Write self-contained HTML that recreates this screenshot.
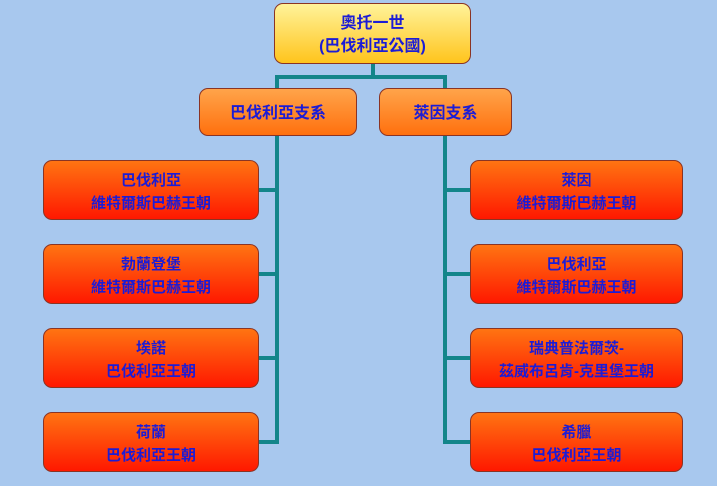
<!DOCTYPE html>
<html><head><meta charset="utf-8"><style>
html,body{margin:0;padding:0}
body{width:717px;height:486px;background:#a8c8ee;position:relative;overflow:hidden;font-family:"Liberation Sans","Noto Sans CJK TC","Noto Sans CJK SC",sans-serif}
.b{position:absolute;box-sizing:border-box;border:1px solid #8a3424;border-radius:9px;display:flex;flex-direction:column;align-items:center;justify-content:center;color:#1c1cd6;font-weight:bold;text-align:center;padding-top:3px}
.top{left:274px;top:3px;width:197px;height:61px;background:linear-gradient(#fff39a,#ffc41c);font-size:16px;line-height:23px}
.mid{top:88px;height:48px;background:linear-gradient(#ffa44a,#ff700e);font-size:16px;line-height:20px}
.leaf{height:60px;background:linear-gradient(#ff7412,#ff1800);font-size:15px;line-height:23px}
.l{position:absolute;background:#13858a}
</style></head><body>
<div class="l" style="left:371px;top:63px;width:4px;height:15px"></div>
<div class="l" style="left:275px;top:75px;width:172px;height:4px"></div>
<div class="l" style="left:275px;top:75px;width:4px;height:369px"></div>
<div class="l" style="left:443px;top:75px;width:4px;height:369px"></div>
<div class="l" style="left:258px;top:188px;width:20px;height:4px"></div>
<div class="l" style="left:258px;top:272px;width:20px;height:4px"></div>
<div class="l" style="left:258px;top:356px;width:20px;height:4px"></div>
<div class="l" style="left:258px;top:440px;width:20px;height:4px"></div>
<div class="l" style="left:444px;top:188px;width:27px;height:4px"></div>
<div class="l" style="left:444px;top:272px;width:27px;height:4px"></div>
<div class="l" style="left:444px;top:356px;width:27px;height:4px"></div>
<div class="l" style="left:444px;top:440px;width:27px;height:4px"></div>

<div class="b top"><div>奧托一世</div><div>(巴伐利亞公國)</div></div>
<div class="b mid" style="left:199px;width:158px">巴伐利亞支系</div>
<div class="b mid" style="left:379px;width:133px">萊因支系</div>

<div class="b leaf" style="left:43px;top:160px;width:216px"><div>巴伐利亞</div><div>維特爾斯巴赫王朝</div></div>
<div class="b leaf" style="left:43px;top:244px;width:216px"><div>勃蘭登堡</div><div>維特爾斯巴赫王朝</div></div>
<div class="b leaf" style="left:43px;top:328px;width:216px"><div>埃諾</div><div>巴伐利亞王朝</div></div>
<div class="b leaf" style="left:43px;top:412px;width:216px"><div>荷蘭</div><div>巴伐利亞王朝</div></div>

<div class="b leaf" style="left:470px;top:160px;width:213px"><div>萊因</div><div>維特爾斯巴赫王朝</div></div>
<div class="b leaf" style="left:470px;top:244px;width:213px"><div>巴伐利亞</div><div>維特爾斯巴赫王朝</div></div>
<div class="b leaf" style="left:470px;top:328px;width:213px"><div>瑞典普法爾茨-</div><div>茲威布呂肯-克里堡王朝</div></div>
<div class="b leaf" style="left:470px;top:412px;width:213px"><div>希臘</div><div>巴伐利亞王朝</div></div>
</body></html>
